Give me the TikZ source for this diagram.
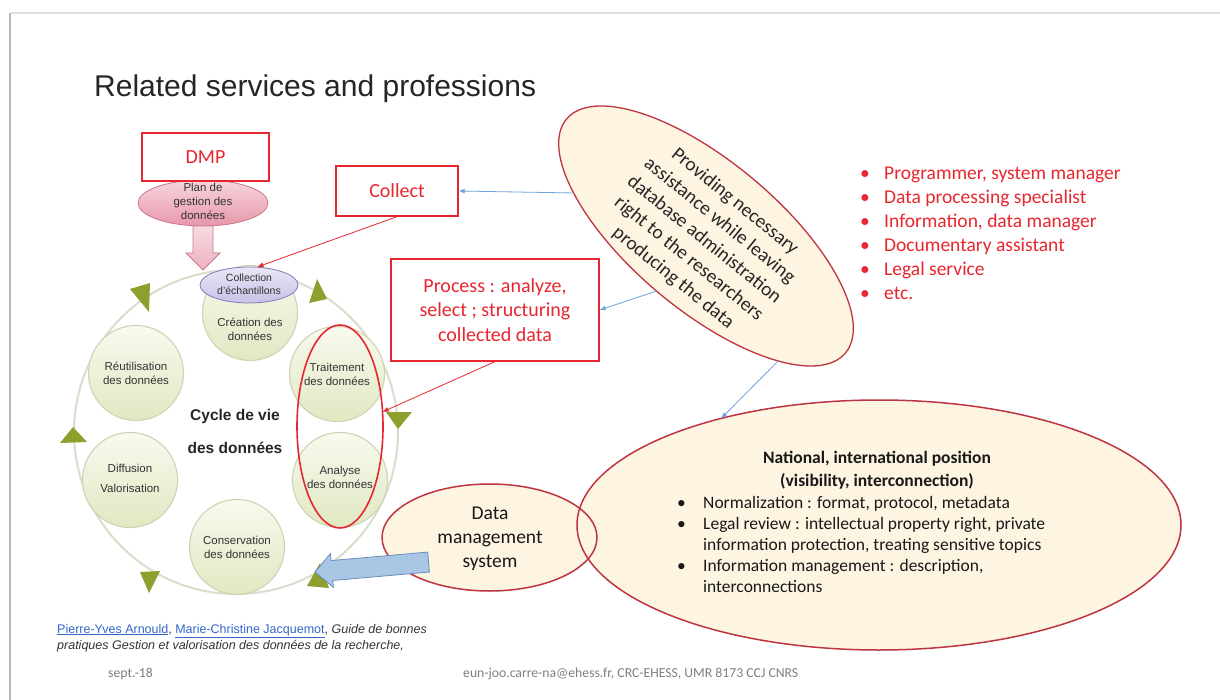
\documentclass[tikz,border=0pt]{standalone}
\usepackage{fontspec}
\setmainfont{Carlito}
\newfontfamily\arialf{Liberation Sans}
\usetikzlibrary{shapes.geometric,arrows.meta,calc}
\definecolor{redtxt}{HTML}{E8262F}
\definecolor{ovalfill}{HTML}{FDF4E1}
\definecolor{ovaldraw}{HTML}{BE3441}
\definecolor{bluel}{HTML}{6FA3DA}
\definecolor{ringc}{HTML}{D9DDCB}
\definecolor{olive}{HTML}{8E9F2D}
\definecolor{circdraw}{HTML}{CDD4B6}
\definecolor{circtop}{HTML}{F8FAEE}
\definecolor{circbot}{HTML}{E0E8C2}
\definecolor{pinkfill}{HTML}{E897AA}
\definecolor{pinkdraw}{HTML}{C9788B}
\definecolor{lavfill}{HTML}{C8C2E8}
\definecolor{lavdraw}{HTML}{857BB5}
\definecolor{arrowblue}{HTML}{A9C6E4}
\definecolor{arrowbluedraw}{HTML}{6B8EBB}
\definecolor{linkblue}{HTML}{3366CC}
\definecolor{greytxt}{HTML}{7F7F7F}
\begin{document}
\begin{tikzpicture}[x=1pt,y=-1pt,
  redbox/.style={draw=redtxt, line width=1.3pt, fill=white, text=redtxt, inner sep=0pt,
    font=\fontsize{20}{24.5}\selectfont, align=center},
  stage/.style={circle, draw=circdraw, line width=1.1pt, top color=circtop, bottom color=circbot,
    minimum size=95pt, inner sep=0pt},
  stagetxt/.style={font=\arialf\fontsize{11.5}{14}\selectfont, text=black!80, align=center, inner sep=0pt},
  creamell/.style={ellipse, draw=ovaldraw, line width=1.4pt, fill=ovalfill, inner sep=0pt, outer sep=0pt},
  bluecon/.style={draw=bluel, line width=0.8pt, -{Latex[length=6pt,width=5pt]}},
  redcon/.style={draw=redtxt, line width=0.8pt, -{Latex[length=6pt,width=5pt]}},
  olivetri/.style={fill=olive}
]
\useasboundingbox (0,0) rectangle (1220,700);
\fill[white] (0,0) rectangle (1220,700);
% slide frame
\draw[draw=black!12, line width=1.5pt] (10,13) -- (1220,13);
\draw[draw=black!28, line width=2pt] (10,700) -- (10,13);

% title
\node[anchor=base west, font=\arialf\fontsize{30}{36}\selectfont, text=black!85, inner sep=0pt] (title) at (94,97) {Related services and professions};

% life cycle
\node[circle, draw=ringc, line width=2pt, minimum size=324pt, inner sep=0pt] (ring) at (236,432) {};
\node[stage] (crea) at (250,313) {};
\node[stagetxt] (creatxt) at (250,329) {Création des\\données};
\node[stage] (trait) at (337,374) {};
\node[stagetxt] (traittxt) at (trait) {Traitement\\des données};
\node[stage] (anal) at (340,480) {};
\node[stagetxt] (analtxt) at (340,477) {Analyse\\des données};
\node[stage] (cons) at (237,547) {};
\node[stagetxt] (constxt) at (cons) {Conservation\\des données};
\node[stage] (diff) at (130,480) {};
\node[stagetxt] (difftxt) at (130,478) {Diffusion\\[6pt]Valorisation};
\node[stage] (reut) at (136,373) {};
\node[stagetxt] (reuttxt) at (reut) {Réutilisation\\des données};
\node[font=\arialf\bfseries\fontsize{15.5}{33}\selectfont, align=center, text=black!85, inner sep=0pt] (cyc) at (235,431) {Cycle de vie\\des données};

% green arrowheads of the cycle
\fill[olivetri] (130,289) -- (150,283) -- (149,312) -- cycle;
\fill[olivetri] (60,443) -- (87,442) -- (73,427) -- cycle;
\fill[olivetri] (140,572) -- (160,571) -- (149,593) -- cycle;
\fill[olivetri] (317,279) -- (309,303) -- (327,299) -- cycle;
\fill[olivetri] (386,412) -- (412,412) -- (398,429) -- cycle;
\fill[olivetri] (320,563) -- (307,586) -- (329,588) -- cycle;

% collection
\node[ellipse, draw=lavdraw, line width=0.8pt, top color=lavfill!40!white, bottom color=lavfill,
  minimum width=98pt, minimum height=36pt, inner sep=0pt] (coll) at (249,285) {};
\node[font=\arialf\fontsize{10.5}{13}\selectfont, text=black!80, align=center, inner sep=0pt] (colltxt) at (249,284) {Collection\\d’échantillons};

% red ellipse around processing / analysis
\node[ellipse, draw=redtxt, line width=1.6pt, minimum width=86pt, minimum height=203pt, inner sep=0pt, outer sep=0pt] (redell) at (340,426.5) {};

% DMP
\coordinate (pinktip) at (203,270);
\node[ellipse, draw=pinkdraw, line width=0.8pt, top color=pinkfill!40!white, bottom color=pinkfill,
  minimum width=130pt, minimum height=46pt, inner sep=0pt, outer sep=0pt] (plan) at (203,203) {};
\path[draw=pinkdraw, line width=0.8pt, top color=pinkfill!35!white, bottom color=pinkfill!75!white]
  ($(plan.south)+(-10,0)$) -- ($(pinktip)+(-10,-17)$) -- ($(pinktip)+(-17,-17)$) -- (pinktip)
  -- ($(pinktip)+(17,-17)$) -- ($(pinktip)+(10,-17)$) -- ($(plan.south)+(10,0)$) -- cycle;
\node[stagetxt] (plantxt) at (203,201.5) {Plan de\\gestion des\\données};
\node[redbox, minimum width=127pt, minimum height=48pt] (dmp) at (205.5,157) {DMP};

% boxes
\node[redbox, minimum width=122pt, minimum height=50pt] (collect) at (397,191) {Collect};
\node[redbox, minimum width=208pt, minimum height=102pt] (process) at (495,310) {Process : analyze,\\select ; structuring\\collected data};

% providing oval
\node[creamell, line width=1.3pt, minimum width=364pt, minimum height=148pt, rotate=-40] (prov) at (706,236) {};
\node[rotate=-39, font=\fontsize{19.5}{24.5}\selectfont, align=center, text=black!85, inner sep=0pt] (provtxt) at (704,240)
  {Providing necessary\\assistance while leaving\\database administration\\right to the researchers\\producing the data};

% professions list
\node[anchor=west, align=left, text=redtxt, font=\fontsize{19.5}{24}\selectfont, inner sep=0pt] (jobs) at (860,233)
  {\makebox[24pt][l]{•}Programmer, system manager\\
   \makebox[24pt][l]{•}Data processing specialist\\
   \makebox[24pt][l]{•}Information, data manager\\
   \makebox[24pt][l]{•}Documentary assistant\\
   \makebox[24pt][l]{•}Legal service\\
   \makebox[24pt][l]{•}etc.};

% data management system and national position
\node[ellipse, fill=ovalfill, minimum width=215pt, minimum height=107pt, inner sep=0pt, outer sep=0pt] (data) at (489.5,537.5) {};
\node[creamell, line width=1.5pt, minimum width=604pt, minimum height=250pt] (nat) at (879,525) {};
\draw[draw=ovaldraw, line width=1.5pt] (data.center) ellipse [x radius=107.5pt, y radius=53.5pt];
\node[font=\fontsize{19.5}{24}\selectfont, align=center, text=black!90, inner sep=0pt] (datatxt) at (490,539) {Data\\management\\system};
\node[font=\bfseries\fontsize{17.5}{23}\selectfont, align=center, text=black!90, inner sep=0pt] (nattitle) at (877,470)
  {National, international position\\(visibility, interconnection)};
\node[anchor=west, align=left, font=\fontsize{17.5}{21}\selectfont, text=black!90, inner sep=0pt] (natlist) at (677,544)
  {\makebox[26pt][l]{•}Normalization : format, protocol, metadata\\
   \makebox[26pt][l]{•}Legal review : intellectual property right, private\\
   \hspace*{26pt}information protection, treating sensitive topics\\
   \makebox[26pt][l]{•}Information management : description,\\
   \hspace*{26pt}interconnections};

% big blue arrow from the data management system to the cycle
\coordinate (bluetip) at (315,572);
\draw[draw=arrowbluedraw, line width=0.8pt, fill=arrowblue, shift={(bluetip)}, rotate=5]
  (0,0) -- (17,-17) -- (17,-10) -- (114,-10) -- (114,10) -- (17,10) -- (17,17) -- cycle;

% thin connectors
\draw[bluecon] (prov.202) -- (collect.east);
\draw[bluecon] (prov.268) -- (process.east);
\draw[bluecon] (prov.-20) -- (nat.146);
\draw[redcon] (collect.south) -- (coll.65);
\draw[redcon] (process.south) -- (redell.19);

% footer
\node[anchor=base west, font=\arialf\fontsize{12.5}{16}\selectfont, text=black!80, inner sep=0pt] (ref1) at (57,633)
  {{\color{linkblue}\underline{Pierre-Yves Arnould}}, {\color{linkblue}\underline{Marie-Christine Jacquemot}}, \textit{Guide de bonnes}};
\node[anchor=base west, font=\arialf\itshape\fontsize{12.5}{16}\selectfont, text=black!80, inner sep=0pt] (ref2) at (57,649)
  {pratiques Gestion et valorisation des données de la recherche,};
\node[anchor=base west, font=\fontsize{13.7}{16}\selectfont, text=greytxt, inner sep=0pt] (date) at (108,677) {sept.-18};
\node[anchor=base west, font=\fontsize{13.7}{16}\selectfont, text=greytxt, inner sep=0pt] (mail) at (463,677) {eun-joo.carre-na@ehess.fr, CRC-EHESS, UMR 8173 CCJ CNRS};
\end{tikzpicture}
\end{document}
